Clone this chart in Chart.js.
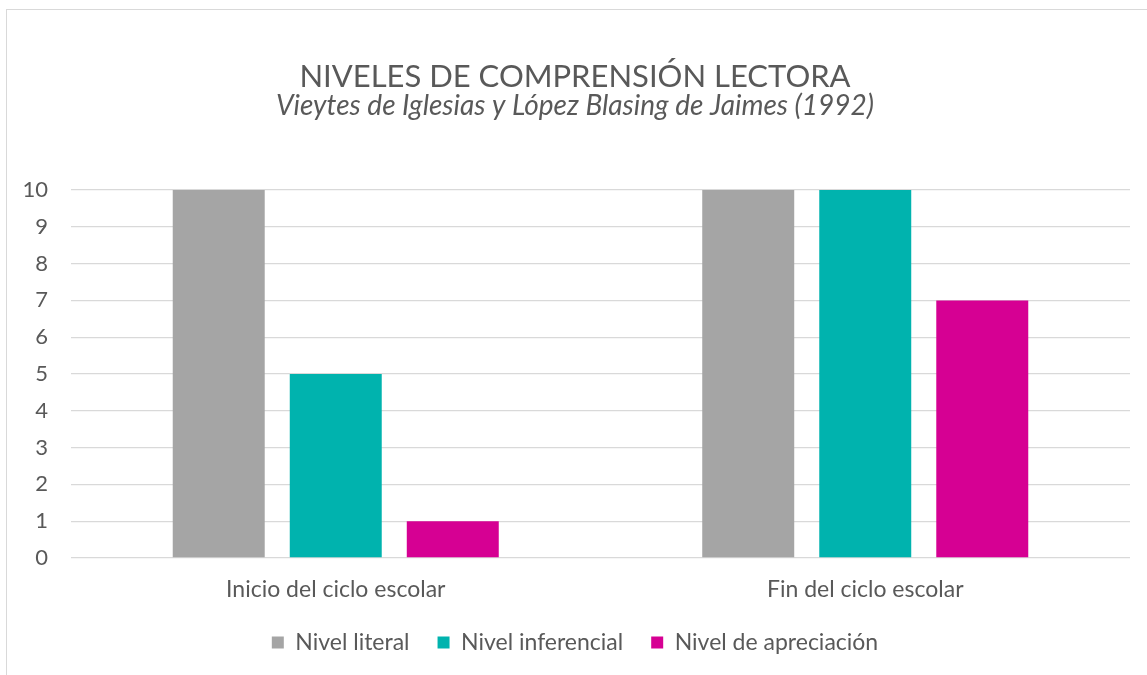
<!DOCTYPE html>
<html>
<head>
<meta charset="utf-8">
<script src="https://cdn.jsdelivr.net/npm/chart.js@4.4.1/dist/chart.umd.min.js"></script>
<style>
  html, body { margin: 0; padding: 0; background: #fff; overflow: hidden; }
  #frame { position: absolute; left: 6px; top: 9px; width: 1200px; height: 720px; border: 1.5px solid #d9d9d9; }
  #wrap { position: absolute; left: 0; top: 0; width: 1147px; height: 675px; }
</style>
</head>
<body>
<div id="frame"></div>
<div id="wrap"><canvas id="chart" width="1147" height="675"></canvas></div>
<script>
const categories = ["Inicio del ciclo escolar", "Fin del ciclo escolar"];
const literal = [10, 10];
const inferencial = [5, 10];
const apreciacion = [1, 7];
const yTicks = [0, 1, 2, 3, 4, 5, 6, 7, 8, 9, 10];

const textColor = "#595959";
const fontFamily = "Lato, sans-serif";

new Chart(document.getElementById("chart"), {
    type: 'bar',
    data: {
        labels: categories,
        datasets: [
            { label: 'Nivel literal', data: literal, backgroundColor: '#a5a5a5' },
            { label: 'Nivel inferencial', data: inferencial, backgroundColor: '#00b3ae' },
            { label: 'Nivel de apreciación', data: apreciacion, backgroundColor: '#d60093' }
        ]
    },
    options: {
        responsive: false,
        animation: false,
        layout: { padding: { left: 20, right: 17, top: 0, bottom: 11 } },
        datasets: {
            bar: { barPercentage: 0.786, categoryPercentage: 0.663 }
        },
        plugins: {
            title: {
                display: true,
                text: 'NIVELES DE COMPRENSIÓN LECTORA',
                color: textColor,
                font: { family: fontFamily, size: 31, weight: 'normal', lineHeight: 1 },
                padding: { top: 61, bottom: 0 }
            },
            subtitle: {
                display: true,
                text: 'Vieytes de Iglesias y López Blasing de Jaimes (1992)',
                color: textColor,
                font: { family: fontFamily, size: 28, style: 'italic', lineHeight: 1 },
                padding: { top: 0, bottom: 70 }
            },
            legend: {
                position: 'bottom',
                labels: {
                    color: textColor,
                    font: { family: fontFamily, size: 23, lineHeight: 1 },
                    boxWidth: 12,
                    boxHeight: 12,
                    padding: 28
                }
            },
            tooltip: { enabled: false }
        },
        scales: {
            x: {
                afterFit: s => { s.height = 45; },
                grid: { display: false },
                border: { display: false },
                ticks: { color: textColor, font: { family: fontFamily, size: 23, lineHeight: 1 }, padding: 12 }
            },
            y: {
                min: 0,
                max: 10,
                afterFit: s => { s.width = 51; },
                afterBuildTicks: s => { s.ticks = yTicks.map(v => ({ value: v })); },
                grid: { color: '#d9d9d9', lineWidth: 1.3, drawTicks: false },
                border: { display: false },
                ticks: { color: textColor, font: { family: fontFamily, size: 22 }, padding: 23 }
            }
        }
    }
});
</script>
</body>
</html>
